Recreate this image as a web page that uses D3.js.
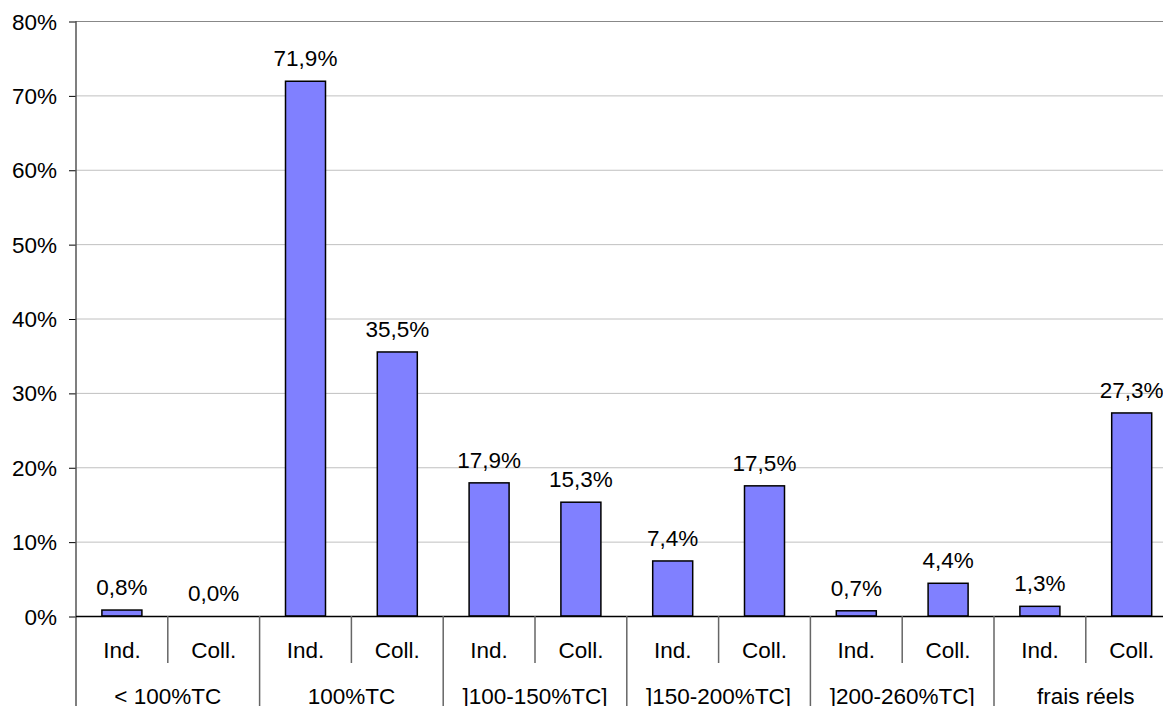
<!DOCTYPE html>
<html><head><meta charset="utf-8">
<script src="https://cdn.jsdelivr.net/npm/d3@7"></script>
<style>body{margin:0;background:#fff;}svg{display:block;font-family:"Liberation Sans",Arial,sans-serif;}</style>
</head><body>
<svg id="c" width="1163" height="706"></svg>
<script>
const groups = ["< 100%TC", "100%TC", "]100-150%TC]", "]150-200%TC]", "]200-260%TC]", "frais réels"];
const subLabels = ["Ind.", "Coll."];
const values = [0.8, 0.0, 71.9, 35.5, 17.9, 15.3, 7.4, 17.5, 0.7, 4.4, 1.3, 27.3];
const yTicks = [0, 10, 20, 30, 40, 50, 60, 70, 80];

const svg = d3.select("#c");
const mLeft = 76, mRight = 1177.6, mTop = 21, mBottom = 616;
const fs = 22.5;
const cats = values.map((v, i) => ({ group: groups[Math.floor(i / 2)], sub: subLabels[i % 2], value: v, idx: i }));

const x = d3.scaleBand().domain(d3.range(values.length)).range([mLeft, mRight]).paddingInner(0).paddingOuter(0);
const y = d3.scaleLinear().domain([0, 80]).range([mBottom, mTop]);
const bw = 40;

// gridlines
svg.append("g").selectAll("line").data(yTicks.filter(t => t > 0)).join("line")
  .attr("x1", mLeft).attr("x2", 1163)
  .attr("y1", d => y(d) + 0.5).attr("y2", d => y(d) + 0.5)
  .attr("stroke", d => d === 80 ? "#888" : "#c0c0c0").attr("stroke-width", 1);

// y axis
const yAxis = d3.axisLeft(y).tickValues(yTicks).tickFormat(d => d + "%").tickSize(7).tickPadding(12);
const yg = svg.append("g").attr("transform", `translate(${mLeft},0)`).call(yAxis);
yg.select(".domain").remove();
yg.selectAll(".tick line").attr("stroke", "#000").attr("stroke-width", 1).attr("transform", "translate(0,0.5)");
yg.selectAll(".tick text").attr("font-size", fs).attr("fill", "#000").attr("font-family", "Liberation Sans, Arial, sans-serif").attr("dy", "0.36em");

// left vertical axis line (extends through label rows)
svg.append("line").attr("x1", mLeft).attr("x2", mLeft).attr("y1", mTop).attr("y2", 706)
  .attr("stroke", "#555").attr("stroke-width", 1.5);

// bars
svg.append("g").selectAll("rect").data(cats).join("rect")
  .attr("x", d => x(d.idx) + x.bandwidth() / 2 - bw / 2)
  .attr("y", d => y(d.value))
  .attr("width", bw)
  .attr("height", d => y(0) - y(d.value))
  .attr("fill", "#8080FF")
  .attr("stroke", "#000").attr("stroke-width", 1.5)
  .attr("display", d => d.value > 0 ? null : "none");

// value labels
svg.append("g").selectAll("text").data(cats).join("text")
  .attr("x", d => x(d.idx) + x.bandwidth() / 2)
  .attr("y", d => y(d.value) - 15)
  .attr("text-anchor", "middle").attr("font-size", fs).attr("fill", "#000")
  .text(d => d.value.toFixed(1).replace(".", ",") + "%");

// x axis line
svg.append("line").attr("x1", mLeft).attr("x2", 1163).attr("y1", mBottom + 0.5).attr("y2", mBottom + 0.5)
  .attr("stroke", "#000").attr("stroke-width", 1.5);

// separators between sub categories (short) and groups (long)
const sepIdx = d3.range(1, values.length + 1);
svg.append("g").selectAll("line").data(sepIdx).join("line")
  .attr("x1", d => x(d - 1) + x.bandwidth()).attr("x2", d => x(d - 1) + x.bandwidth())
  .attr("y1", mBottom).attr("y2", d => d % 2 === 0 ? 706 : 663)
  .attr("stroke", "#666").attr("stroke-width", 1.5);

// sub labels
svg.append("g").selectAll("text").data(cats).join("text")
  .attr("x", d => x(d.idx) + x.bandwidth() / 2).attr("y", 658)
  .attr("text-anchor", "middle").attr("font-size", fs).attr("fill", "#000")
  .text(d => d.sub);

// group labels
svg.append("g").selectAll("text").data(groups).join("text")
  .attr("x", (d, i) => x(i * 2) + x.bandwidth())
  .attr("y", 704)
  .attr("text-anchor", "middle").attr("font-size", fs).attr("fill", "#000")
  .text(d => d);
</script>
</body></html>
